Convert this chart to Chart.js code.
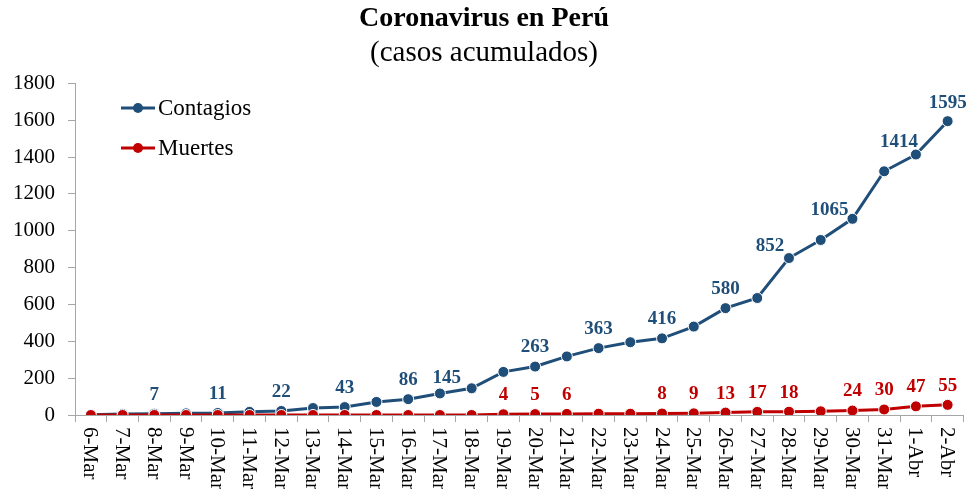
<!DOCTYPE html>
<html>
<head>
<meta charset="utf-8">
<script src="https://cdn.jsdelivr.net/npm/chart.js@4/dist/chart.umd.min.js"></script>
<style>
  html, body { margin: 0; padding: 0; background: #fff; }
  #wrap { width: 970px; height: 489px; }
</style>
</head>
<body>
<div id="wrap"><canvas id="lineChart"></canvas></div>
<script>
const fechas = ['6-Mar', '7-Mar', '8-Mar', '9-Mar', '10-Mar', '11-Mar', '12-Mar', '13-Mar', '14-Mar',
  '15-Mar', '16-Mar', '17-Mar', '18-Mar', '19-Mar', '20-Mar', '21-Mar', '22-Mar', '23-Mar', '24-Mar',
  '25-Mar', '26-Mar', '27-Mar', '28-Mar', '29-Mar', '30-Mar', '31-Mar', '1-Abr', '2-Abr'];
const contagios = [1, 6, 7, 9, 11, 17, 22, 38, 43, 71, 86, 117, 145, 234, 263, 318, 363, 395, 416,
  480, 580, 635, 852, 950, 1065, 1323, 1414, 1595];
const muertes = [0, 0, 0, 0, 0, 0, 0, 0, 0, 0, 0, 0, 0, 4, 5, 6, 7, 7, 8, 9, 13, 17, 18, 20, 24, 30, 47, 55];
// labels shown above some points (null = no label)
const contagiosEtiquetas = [null, null, '7', null, '11', null, '22', null, '43', null, '86', null, '145',
  null, '263', null, '363', null, '416', null, '580', null, '852', null, '1065', null, '1414', '1595'];
const muertesEtiquetas = [null, null, null, null, null, null, null, null, null, null, null, null, null,
  '4', '5', '6', null, null, '8', '9', '13', '17', '18', null, '24', '30', '47', '55'];

const AZUL = '#1F4E79';
const ROJO = '#C00000';
const SERIF = '"Liberation Serif", "Times New Roman", serif';

/************************************************************************************************************/

const extras = {
  id: 'extras',
  afterDatasetsDraw(chart) {
    const ctx = chart.ctx;
    const area = chart.chartArea;
    const xScale = chart.scales.x;

    // x labels, rotated clockwise (read top to bottom)
    ctx.save();
    ctx.fillStyle = '#000';
    ctx.font = '21px ' + SERIF;
    ctx.textAlign = 'left';
    ctx.textBaseline = 'middle';
    fechas.forEach((f, i) => {
      const x = xScale.getPixelForValue(i);
      ctx.save();
      ctx.translate(x - 1, area.bottom + 12);
      ctx.rotate(Math.PI / 2);
      ctx.fillText(f, 0, 0);
      ctx.restore();
    });
    ctx.restore();

    // data labels
    const shift = { 12: [-25, -10], 22: [-19, -12], 24: [-23, -9], 26: [-17, -12], 27: [0, -18] };
    ctx.save();
    ctx.font = 'bold 19px ' + SERIF;
    ctx.textAlign = 'center';
    ctx.textBaseline = 'middle';
    const drawLabels = (dsIndex, texts, color, useShift) => {
      const meta = chart.getDatasetMeta(dsIndex);
      ctx.fillStyle = color;
      texts.forEach((t, i) => {
        if (t === null) return;
        const p = meta.data[i];
        let dx = 0, dy = -19;
        if (useShift && shift[i]) { dx = shift[i][0]; dy = shift[i][1]; }
        ctx.fillText(t, p.x + dx, p.y + dy);
      });
    };
    drawLabels(0, contagiosEtiquetas, AZUL, true);
    drawLabels(1, muertesEtiquetas, ROJO, false);
    ctx.restore();

    // legend
    ctx.save();
    ctx.font = '23px ' + SERIF;
    ctx.textAlign = 'left';
    ctx.textBaseline = 'middle';
    const items = [['Contagios', AZUL, 108], ['Muertes', ROJO, 148]];
    items.forEach(([txt, col, y]) => {
      const x0 = area.left + 46;
      ctx.strokeStyle = col;
      ctx.lineWidth = 3;
      ctx.beginPath();
      ctx.moveTo(x0, y);
      ctx.lineTo(x0 + 34, y);
      ctx.stroke();
      ctx.fillStyle = col;
      ctx.beginPath();
      ctx.arc(x0 + 17, y, 5, 0, Math.PI * 2);
      ctx.fill();
      ctx.fillStyle = '#000';
      ctx.fillText(txt, x0 + 37, y + 1);
    });
    ctx.restore();
  }
};

const ctx = document.getElementById('lineChart').getContext('2d');
window.myLineChart = new Chart(ctx, {
  type: 'line',
  data: {
    labels: fechas,
    datasets: [
      {
        label: 'Contagios',
        data: contagios,
        borderColor: AZUL,
        backgroundColor: AZUL,
        pointBorderColor: '#fff',
        pointBorderWidth: 1,
        pointRadius: 5.5,
        borderWidth: 3,
        fill: false,
        order: 1,
      },
      {
        label: 'Muertes',
        data: muertes,
        borderColor: ROJO,
        backgroundColor: ROJO,
        pointBorderColor: '#fff',
        pointBorderWidth: 1,
        pointRadius: 5.5,
        borderWidth: 3,
        fill: false,
        order: 0,
      },
    ],
  },
  options: {
    responsive: true,
    maintainAspectRatio: false,
    animation: false,
    layout: { padding: { left: 0, right: 2, top: 0, bottom: 67 } },
    plugins: {
      legend: { display: false },
      tooltip: { enabled: false },
      title: {
        display: true,
        text: 'Coronavirus en Perú',
        color: '#000',
        font: { family: SERIF, size: 28, weight: 'bold', lineHeight: 1.2 },
        padding: { top: 2, bottom: 0 },
      },
      subtitle: {
        display: true,
        text: '(casos acumulados)',
        color: '#000',
        font: { family: SERIF, size: 29, lineHeight: 1.2 },
        padding: { top: 0, bottom: 13 },
      },
    },
    scales: {
      x: {
        offset: true,
        grid: { display: true, drawOnChartArea: false, offset: true, tickLength: 7, color: '#A6A6A6' },
        border: { color: '#A6A6A6', width: 1 },
        ticks: { display: false },
      },
      y: {
        min: 0,
        max: 1800,
        grid: { display: true, drawOnChartArea: false, tickLength: 7, color: '#A6A6A6' },
        border: { color: '#A6A6A6', width: 1 },
        ticks: {
          stepSize: 200,
          color: '#000',
          padding: 13,
          font: { family: SERIF, size: 21 },
          callback: (v) => String(v),
        },
      },
    },
  },
  plugins: [extras],
});
</script>
</body>
</html>
